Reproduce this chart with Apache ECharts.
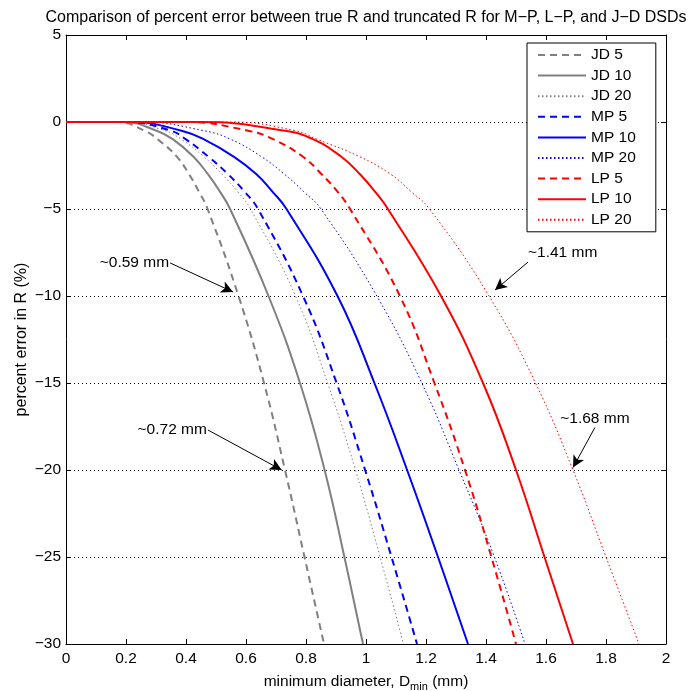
<!DOCTYPE html>
<html>
<head>
<meta charset="utf-8">
<script src="https://cdn.jsdelivr.net/npm/echarts@6/dist/echarts.min.js"></script>
<style>html,body{margin:0;padding:0;background:#fff;overflow:hidden}#c{width:690px;height:691px}</style>
</head>
<body>
<div id="c"></div>
<script>
// y levels (percent error) at which each curve's diameter (mm) was read
const yLevels = [0, 0, -0.5, -1, -2, -3, -4, -5, -10, -15, -20, -25, -30];
const jd5X  = [0, 0.17, 0.262, 0.306, 0.37, 0.41, 0.443, 0.472, 0.575, 0.66, 0.73, 0.795, 0.86];
const jd10X = [0, 0.19, 0.302, 0.357, 0.425, 0.473, 0.513, 0.547, 0.675, 0.78, 0.862, 0.928, 0.99];
const jd20X = [0, 0.20, 0.33, 0.385, 0.46, 0.52, 0.572, 0.615, 0.765, 0.872, 0.965, 1.047, 1.125];
const mp5X  = [0, 0.20, 0.35, 0.40, 0.475, 0.54, 0.595, 0.64, 0.79, 0.902, 0.997, 1.085, 1.17];
const mp10X = [0, 0.22, 0.385, 0.46, 0.56, 0.635, 0.688, 0.735, 0.905, 1.028, 1.137, 1.24, 1.34];
const mp20X = [0, 0.25, 0.46, 0.55, 0.652, 0.728, 0.792, 0.85, 1.036, 1.186, 1.31, 1.428, 1.53];
const lp5X  = [0, 0.40, 0.607, 0.692, 0.79, 0.852, 0.905, 0.947, 1.113, 1.228, 1.33, 1.418, 1.50];
const lp10X = [0, 0.45, 0.73, 0.825, 0.918, 0.98, 1.03, 1.073, 1.25, 1.39, 1.50, 1.595, 1.69];
const lp20X = [0, 0.55, 0.765, 0.838, 0.98, 1.082, 1.15, 1.212, 1.41, 1.565, 1.69, 1.80, 1.91];

const seriesNames = ['JD 5','JD 10','JD 20','MP 5','MP 10','MP 20','LP 5','LP 10','LP 20'];
const seriesX = [jd5X, jd10X, jd20X, mp5X, mp10X, mp20X, lp5X, lp10X, lp20X];

const xTicks = { min: 0, max: 2, step: 0.2 };
const yTicks = { min: -30, max: 5, step: 5 };

// annotations (data coordinates)
const annoText = ['~0.59 mm', '~0.72 mm', '~1.41 mm', '~1.68 mm'];
const annoFrom = [[0.347, -8.1], [0.473, -17.7], [1.54, -8.05], [1.763, -17.56]];
const annoTo   = [[0.557, -9.77], [0.719, -20.0], [1.43, -9.66], [1.69, -19.86]];
const annoPos  = ['left', 'left', 'right', 'top'];

const titleText = 'Comparison of percent error between true R and truncated R for M\u2212P, L\u2212P, and J\u2212D DSDs';

const colors = { JD: '#808080', MP: '#0000ff', LP: '#ff0000' };
const FONT = 'Liberation Sans, Arial, Helvetica, sans-serif';
const FS = 15.5;

function styleFor(name) {
  const fam = name.split(' ')[0];
  const n = name.split(' ')[1];
  const c = colors[fam];
  if (n === '5') return { color: c, width: 2, type: [7, 5] };
  if (n === '10') return { color: c, width: 2, type: 'solid' };
  return { color: c, width: 1, type: [1.5, 2.5] };
}

const series = seriesNames.map((name, i) => {
  const ls = styleFor(name);
  return {
    name: name,
    type: 'line',
    data: seriesX[i].map((x, j) => [x, yLevels[j]]),
    symbol: 'none',
    smooth: 0.45,
    color: ls.color,
    lineStyle: ls,
    clip: true,
    z: 3
  };
});

// annotation series
series.push({
  name: 'annot',
  type: 'line',
  data: [],
  symbol: 'none',
  markLine: {
    silent: true,
    symbol: ['none', 'arrow'],
    symbolSize: [9, 12],
    lineStyle: { color: '#000', width: 1, type: 'solid' },
    label: { show: false },
    data: annoFrom.map((f, i) => [{ coord: f }, { coord: annoTo[i] }])
  },
  markPoint: {
    silent: true,
    symbol: 'circle',
    symbolSize: 0,
    label: { show: true, color: '#000', fontFamily: FONT, fontSize: FS },
    data: annoFrom.map((f, i) => ({
      coord: f,
      label: {
        formatter: annoText[i],
        position: annoPos[i],
        distance: annoPos[i] === 'right' ? 0 : 1,
        offset: annoPos[i] === 'right' ? [0, -9] : [0, 0]
      }
    }))
  },
  z: 5
});

const chart = echarts.init(document.getElementById('c'), null, { renderer: 'canvas' });
chart.setOption({
  animation: false,
  backgroundColor: '#fff',
  textStyle: { fontFamily: FONT },
  title: {
    text: titleText,
    left: 361, top: 5, textAlign: 'center',
    textStyle: { fontSize: 16, fontWeight: 'normal', color: '#000', fontFamily: FONT }
  },
  grid: { left: 66, right: 24, top: 35, bottom: 47, containLabel: false, outerBoundsMode: 'none' },
  legend: {
    data: seriesNames,
    orient: 'vertical',
    left: 527, top: 43,
    padding: [4, 20, 4, 10],
    itemWidth: 48, itemHeight: 16, itemGap: 4.6,
    borderColor: '#000', borderWidth: 1, backgroundColor: '#fff',
    itemStyle: { opacity: 0 },
    textStyle: { fontSize: FS, color: '#000', fontFamily: FONT },
    selectedMode: false
  },
  xAxis: [{
    type: 'value', min: xTicks.min, max: xTicks.max, interval: xTicks.step,
    name: 'minimum diameter, D{sub|min} (mm)',
    nameLocation: 'middle', nameGap: 28, nameMoveOverlap: false,
    nameTextStyle: { fontSize: FS, color: '#000', fontFamily: FONT,
      rich: { sub: { fontSize: 11, padding: [9, 0, 0, 0], fontFamily: FONT, color: '#000' } } },
    axisLine: { onZero: false, lineStyle: { color: '#000', width: 1 } },
    axisTick: { inside: true, length: 5, lineStyle: { color: '#000' } },
    axisLabel: { fontSize: FS, color: '#000', margin: 7, fontFamily: FONT },
    splitLine: { show: false }
  }, {
    type: 'value', min: xTicks.min, max: xTicks.max, interval: xTicks.step,
    position: 'top',
    axisLine: { onZero: false, lineStyle: { color: '#000', width: 1 } },
    axisTick: { inside: true, length: 5, lineStyle: { color: '#000' } },
    axisLabel: { show: false },
    splitLine: { show: false }
  }],
  yAxis: [{
    type: 'value', min: yTicks.min, max: yTicks.max, interval: yTicks.step,
    name: 'percent error in R (%)',
    nameLocation: 'middle', nameGap: 36, nameRotate: 90, nameMoveOverlap: false,
    nameTextStyle: { fontSize: 16, color: '#000', fontFamily: FONT },
    axisLine: { onZero: false, lineStyle: { color: '#000', width: 1 } },
    axisTick: { inside: true, length: 5, lineStyle: { color: '#000' } },
    axisLabel: { fontSize: FS, color: '#000', margin: 5, fontFamily: FONT,
      formatter: v => String(v).replace('-', '\u2212') },
    splitLine: { show: true, lineStyle: { color: '#000', width: 1, type: [1, 3] } }
  }, {
    type: 'value', min: yTicks.min, max: yTicks.max, interval: yTicks.step,
    position: 'right',
    axisLine: { onZero: false, lineStyle: { color: '#000', width: 1 } },
    axisTick: { inside: true, length: 5, lineStyle: { color: '#000' } },
    axisLabel: { show: false },
    splitLine: { show: false }
  }],
  series: series
});
</script>
</body>
</html>
